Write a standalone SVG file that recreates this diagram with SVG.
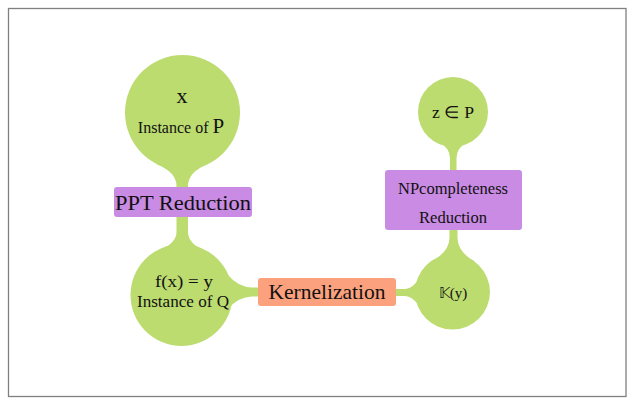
<svg xmlns="http://www.w3.org/2000/svg" width="635" height="405" viewBox="0 0 635 405">
<style>
.g{fill:#bcdc70}
.pu{fill:#c98be3}
.sa{fill:#fca17e}
.t{font-family:'Liberation Serif','Times New Roman',serif;fill:#111;text-anchor:middle}
</style>
<rect x="0" y="0" width="635" height="405" fill="#ffffff"/>
<rect x="8.5" y="8.5" width="617.5" height="388" fill="none" stroke="#808080" stroke-width="1.3"/>
<g id="connectors" class="g">
<path d="M156,164 Q176.5,172 176.5,186 L176.5,232 Q176.5,244 156,252 L207,252 Q188,244 188,232 L188,186 Q188,172 208,164 Z"/>
<path d="M228,275 Q238,287 252,287.5 L262,287.5 L262,296.5 L252,296.5 Q238,297 228,309 Z"/>
<path d="M392,289 L405,289 Q416,288 423,270 L423,314 Q416,297 405,296 L392,296 Z"/>
<path d="M449.5,226 L449.5,238 Q449,252 432,261 L474,261 Q458,252 457.5,238 L457.5,226 Z"/>
<path d="M437,140 Q450,148 450,158 L450,174 L456.5,174 L456.5,158 Q456.5,148 469,140 Z"/>
</g>
<g id="node-x">
<circle class="g" cx="182.5" cy="112.5" r="57.5"/>
<text class="t" x="182" y="103" font-size="22" font-family="Liberation Serif, serif">x</text>
<text class="t" x="181" y="133" font-size="16" font-family="Liberation Serif, serif">Instance of <tspan font-size="21">P</tspan></text>
</g>
<g id="node-ppt">
<rect class="pu" x="114" y="187" width="138" height="30" rx="3"/>
<text class="t" x="183" y="210" font-size="22" font-family="Liberation Serif, serif" textLength="136" lengthAdjust="spacingAndGlyphs">PPT Reduction</text>
</g>
<g id="node-fx">
<circle class="g" cx="181.5" cy="295" r="51"/>
<text class="t" x="184" y="287" font-size="17" font-family="Liberation Serif, serif" textLength="58" lengthAdjust="spacingAndGlyphs">f(x) = y</text>
<text class="t" x="183" y="307" font-size="16" font-family="Liberation Serif, serif" textLength="92" lengthAdjust="spacingAndGlyphs">Instance of Q</text>
</g>
<g id="node-kern">
<rect class="sa" x="258" y="278" width="138" height="28" rx="3"/>
<text class="t" x="327" y="299" font-size="21" font-family="Liberation Serif, serif" textLength="117" lengthAdjust="spacingAndGlyphs">Kernelization</text>
</g>
<g id="node-ky">
<circle class="g" cx="452.5" cy="292" r="37.5"/>
<text class="t" x="453" y="298" font-size="15" font-family="DejaVu Serif, DejaVu Sans, serif">𝕂(y)</text>
</g>
<g id="node-np">
<rect class="pu" x="385" y="170" width="137" height="60" rx="3"/>
<text class="t" x="453" y="194" font-size="16" font-family="Liberation Serif, serif" textLength="110" lengthAdjust="spacingAndGlyphs">NPcompleteness</text>
<text class="t" x="453" y="223" font-size="16" font-family="Liberation Serif, serif" textLength="68" lengthAdjust="spacingAndGlyphs">Reduction</text>
</g>
<g id="node-z">
<circle class="g" cx="453" cy="112" r="35"/>
<text class="t" x="453" y="118" font-size="17" font-family="Liberation Serif, serif" textLength="42" lengthAdjust="spacingAndGlyphs">z ∈ P</text>
</g>
</svg>
